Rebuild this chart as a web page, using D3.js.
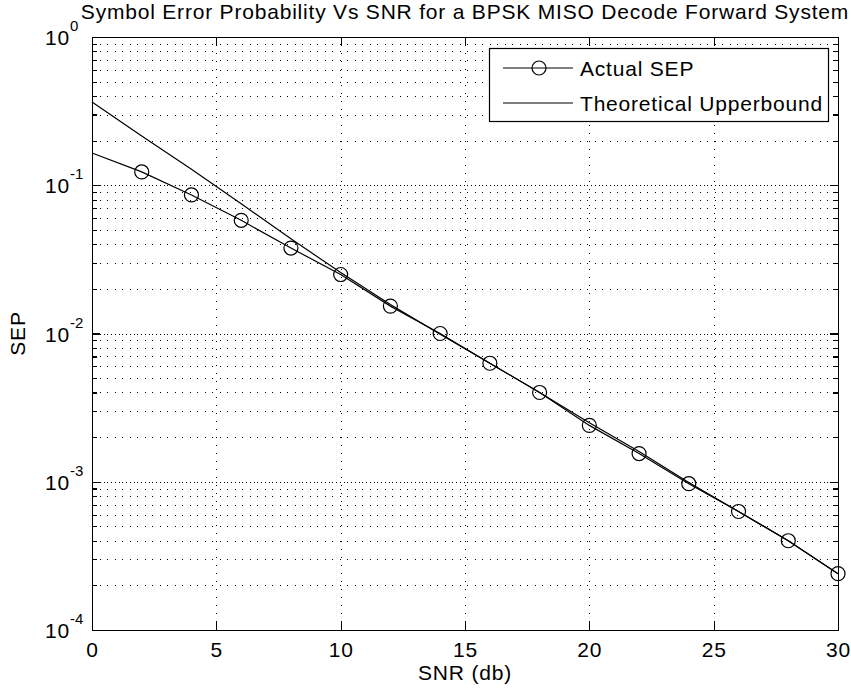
<!DOCTYPE html>
<html>
<head>
<meta charset="utf-8">
<script src="https://cdn.jsdelivr.net/npm/d3@7"></script>
<style>
  body { margin: 0; padding: 0; background: #fff; }
  svg { display: block; }
  text { font-family: "Liberation Sans", Arial, sans-serif; fill: #000; }
</style>
</head>
<body>
<div id="main"></div>
<script>
const snrValues = [0, 2, 4, 6, 8, 10, 12, 14, 16, 18, 20, 22, 24, 26, 28, 30];
const actualSep = [0.165, 0.123, 0.086, 0.058, 0.0377, 0.025, 0.0153, 0.0100, 0.0063, 0.0040, 0.0024, 0.00155, 0.00097, 0.00063, 0.00040, 0.00024];
const upperBound = [0.365, 0.215, 0.128, 0.075, 0.0435, 0.0258, 0.0157, 0.0099, 0.0063, 0.0040, 0.0025, 0.0016, 0.00099, 0.00063, 0.00040, 0.00024];
const xTicks = [0, 5, 10, 15, 20, 25, 30];
const yExponents = [0, -1, -2, -3, -4];
const seriesNames = ['Actual SEP', 'Theoretical Upperbound'];

const WIDTH = 851, HEIGHT = 700;
const LEFT = 92, RIGHT = 838, TOP = 37, BOTTOM = 630;
const FONT = 21;
const SPACING = '0.8px';

const svg = d3.select('#main').append('svg').attr('width', WIDTH).attr('height', HEIGHT);
svg.append('rect').attr('width', WIDTH).attr('height', HEIGHT).attr('fill', '#fff');

const x = d3.scaleLinear().domain([0, 30]).range([LEFT, RIGHT]);
const y = d3.scaleLog().domain([1e-4, 1]).range([BOTTOM, TOP]);
const decades = yExponents.map((e) => Math.pow(10, e));
const minorTicks = y.ticks().filter((v) => !decades.some((d) => Math.abs(v - d) / d < 1e-6));

// grid
const grid = svg.append('g').attr('stroke', '#000').attr('stroke-width', 1).attr('shape-rendering', 'crispEdges');
grid.selectAll('.hgrid').data(y.ticks()).enter().append('line')
    .attr('x1', LEFT).attr('x2', RIGHT)
    .attr('y1', (d) => Math.round(y(d)) + 0.5).attr('y2', (d) => Math.round(y(d)) + 0.5)
    .attr('stroke-dasharray', '1,6.5');
grid.selectAll('.dgrid').data(decades).enter().append('line')
    .attr('x1', LEFT).attr('x2', RIGHT)
    .attr('y1', (d) => Math.round(y(d)) + 0.5).attr('y2', (d) => Math.round(y(d)) + 0.5)
    .attr('stroke-dasharray', '1,6.5').attr('stroke-dashoffset', 3.5);
grid.selectAll('.vgrid').data(xTicks).enter().append('line')
    .attr('y1', TOP).attr('y2', BOTTOM)
    .attr('x1', (d) => Math.round(x(d)) + 0.5).attr('x2', (d) => Math.round(x(d)) + 0.5)
    .attr('stroke-dasharray', '1,7');

// axes with inward ticks
const axisStyle = (g) => {
    g.selectAll('path, line').attr('stroke', '#000').attr('stroke-width', 1.2).attr('shape-rendering', 'crispEdges');
    g.selectAll('text').attr('font-size', FONT).attr('letter-spacing', SPACING)
        .attr('font-family', '"Liberation Sans", Arial, sans-serif');
};
svg.append('g').attr('transform', `translate(0, ${BOTTOM})`)
    .call(d3.axisBottom(x).tickValues(xTicks).tickSizeInner(-8).tickSizeOuter(0).tickPadding(12))
    .call(axisStyle);
svg.append('g').attr('transform', `translate(0, ${TOP})`)
    .call(d3.axisTop(x).tickValues(xTicks).tickSizeInner(-8).tickSizeOuter(0).tickFormat(''))
    .call(axisStyle);
svg.append('g').attr('transform', `translate(${LEFT}, 0)`)
    .call(d3.axisLeft(y).tickValues(decades).tickSizeInner(-8).tickSizeOuter(0).tickFormat(''))
    .call(axisStyle);
svg.append('g').attr('transform', `translate(${LEFT}, 0)`)
    .call(d3.axisLeft(y).tickValues(minorTicks).tickSizeInner(-5).tickSizeOuter(0).tickFormat(''))
    .call(axisStyle).select('.domain').remove();
svg.append('g').attr('transform', `translate(${RIGHT}, 0)`)
    .call(d3.axisRight(y).tickValues(decades).tickSizeInner(-8).tickSizeOuter(0).tickFormat(''))
    .call(axisStyle);
svg.append('g').attr('transform', `translate(${RIGHT}, 0)`)
    .call(d3.axisRight(y).tickValues(minorTicks).tickSizeInner(-5).tickSizeOuter(0).tickFormat(''))
    .call(axisStyle).select('.domain').remove();

// y tick labels 10^n
const yLabels = svg.append('g');
yLabels.selectAll('.base').data(yExponents).enter().append('text')
    .attr('x', 70).attr('y', (d) => y(Math.pow(10, d)) + 8)
    .attr('text-anchor', 'end').attr('font-size', FONT).attr('letter-spacing', SPACING).text('10');
yLabels.selectAll('.exp').data(yExponents).enter().append('text')
    .attr('x', 70).attr('y', (d) => y(Math.pow(10, d)) - 6)
    .attr('font-size', 15).text((d) => `${d}`);

// series
const pts = snrValues.map((s, i) => ({snr: s, actual: actualSep[i], upper: upperBound[i]}));
const line = (key) => d3.line().x((d) => x(d.snr)).y((d) => y(d[key]));
svg.append('path').datum(pts).attr('d', line('upper')).attr('fill', 'none').attr('stroke', '#000').attr('stroke-width', 1.2);
svg.append('path').datum(pts).attr('d', line('actual')).attr('fill', 'none').attr('stroke', '#000').attr('stroke-width', 1.2);
svg.selectAll('.marker').data(pts.filter((d) => d.snr > 0)).enter().append('circle')
    .attr('cx', (d) => x(d.snr)).attr('cy', (d) => y(d.actual)).attr('r', 7)
    .attr('fill', 'none').attr('stroke', '#000').attr('stroke-width', 1.2);

// legend
const legend = svg.append('g');
legend.append('rect').attr('x', 489.5).attr('y', 48.5).attr('width', 339).attr('height', 73)
    .attr('fill', '#fff').attr('stroke', '#000').attr('stroke-width', 1.2);
const legendRows = [68, 103];
seriesNames.forEach((name, i) => {
    legend.append('line').attr('x1', 503).attr('x2', 573).attr('y1', legendRows[i]).attr('y2', legendRows[i])
        .attr('stroke', '#000').attr('stroke-width', 1.2);
    if (i === 0) {
        legend.append('circle').attr('cx', 539).attr('cy', legendRows[i]).attr('r', 7)
            .attr('fill', 'none').attr('stroke', '#000').attr('stroke-width', 1.2);
    }
    legend.append('text').attr('x', 580).attr('y', legendRows[i] + 8).attr('font-size', FONT)
        .attr('letter-spacing', SPACING).text(name);
});

// titles
svg.append('text').attr('x', (LEFT + RIGHT) / 2).attr('y', 19).attr('text-anchor', 'middle').attr('font-size', FONT)
    .attr('letter-spacing', SPACING)
    .text('Symbol Error Probability Vs SNR for a BPSK MISO Decode Forward System');
svg.append('text').attr('x', (LEFT + RIGHT) / 2).attr('y', 680).attr('text-anchor', 'middle').attr('font-size', FONT)
    .attr('letter-spacing', SPACING).text('SNR (db)');
svg.append('text').attr('transform', `translate(25, ${(TOP + BOTTOM) / 2}) rotate(-90)`).attr('text-anchor', 'middle')
    .attr('font-size', FONT).attr('letter-spacing', SPACING).text('SEP');
</script>
</body>
</html>
